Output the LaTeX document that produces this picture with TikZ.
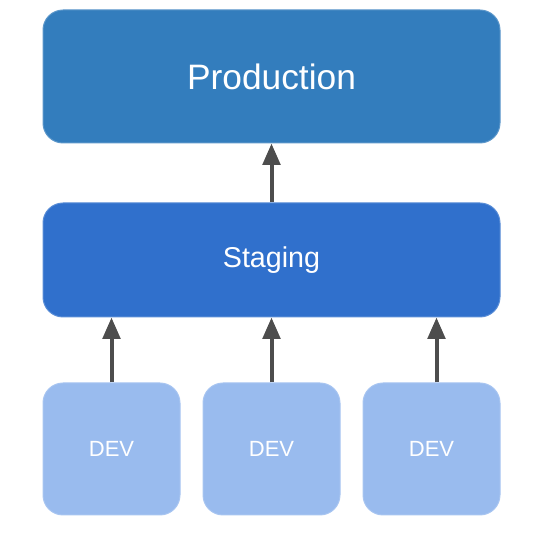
\documentclass[tikz,border=0pt]{standalone}
\usepackage{fontspec}
\setmainfont{Liberation Sans}
\usetikzlibrary{arrows.meta}
\definecolor{prodblue}{RGB}{51,125,189}
\definecolor{stageblue}{RGB}{48,112,204}
\definecolor{devblue}{RGB}{153,187,238}
\definecolor{arrowgray}{RGB}{77,77,77}
\tikzset{
  env/.style={rounded corners=15pt,line width=0.75pt,text=white,inner sep=0pt},
  devbox/.style={env,fill=devblue,draw=devblue!85!white,minimum width=102.75pt,minimum height=99pt,font=\fontsize{16.5}{18}\selectfont}
}
\begin{document}
\begin{tikzpicture}[line cap=butt,line join=round,>={Triangle[length=16pt,width=13pt]},x=0.75pt,y=0.75pt]
\useasboundingbox (0,0) rectangle (544,536);
\node [env,fill=prodblue,draw=prodblue!80!white,minimum width=342.75pt,minimum height=99.75pt,font=\fontsize{26.5}{30}\selectfont] (prod) at (271.5,459.5) {Production};
\node [env,fill=stageblue,draw=stageblue!80!white,minimum width=342.75pt,minimum height=85.5pt,font=\fontsize{21.5}{24}\selectfont] (stage) at (271.5,276) {Staging};
\node [devbox] (dev1) at (111.5,87) {DEV};
\node [devbox] (dev2) at (271.5,87) {DEV};
\node [devbox] (dev3) at (431.5,87) {DEV};
\draw [->,line width=3pt,color=arrowgray] (stage.north) -- (prod.south);
\draw [->,line width=3pt,color=arrowgray] (dev1.north) -- (stage.south -| dev1.north);
\draw [->,line width=3pt,color=arrowgray] (dev2.north) -- (stage.south -| dev2.north);
\draw [->,line width=3pt,color=arrowgray] ([xshift=3.75pt]dev3.north) -- ([xshift=3.75pt]stage.south -| dev3.north);
\end{tikzpicture}
\end{document}
